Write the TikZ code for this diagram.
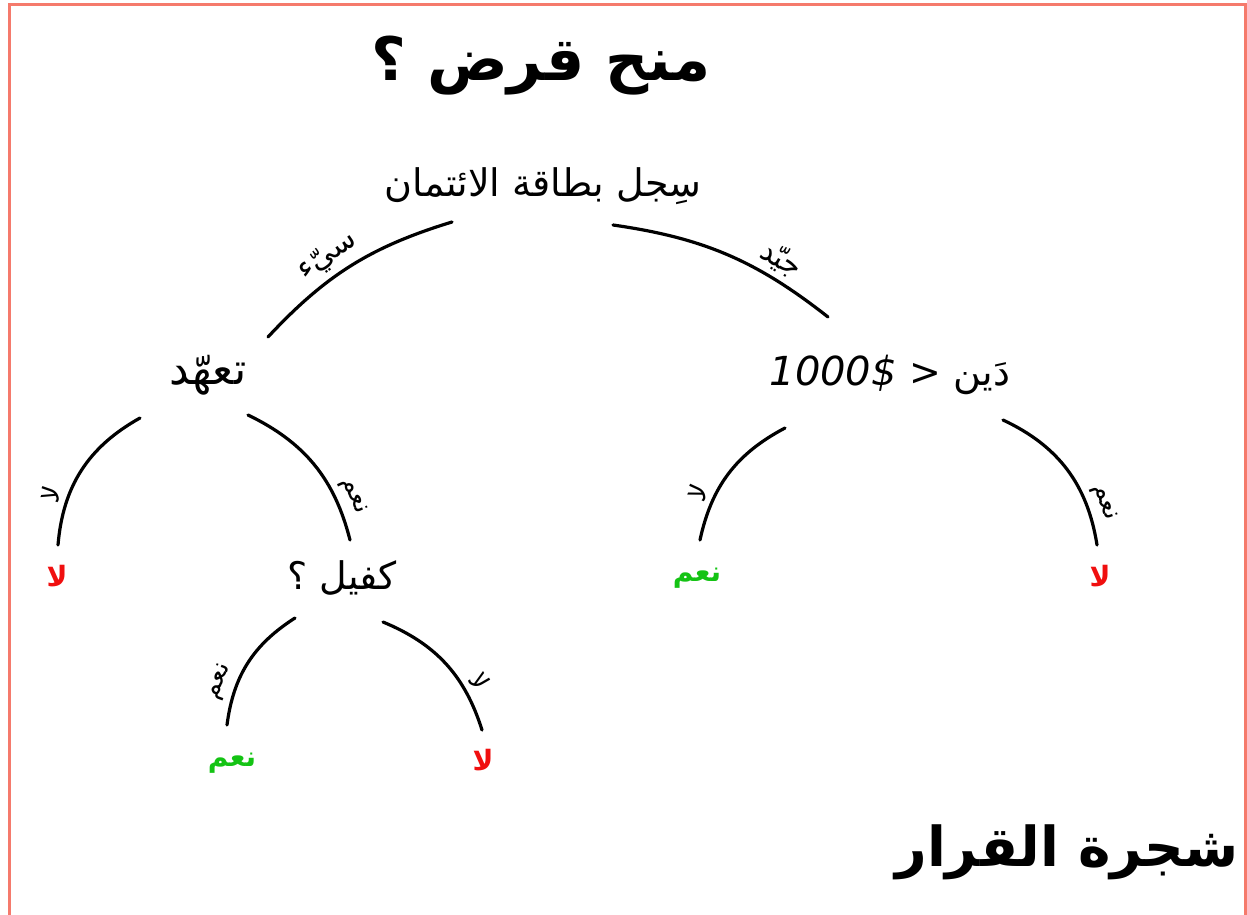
\documentclass[tikz,border=0pt]{standalone}
\usepackage{fontspec}
\setmainfont{DejaVu Sans}
\newfontfamily\arabicfont[Script=Arabic]{DejaVu Sans}
\TeXXeTstate=1
\definecolor{framec}{RGB}{245,122,108}
\definecolor{yesgreen}{RGB}{20,195,20}
\definecolor{nored}{RGB}{240,15,15}
\newcommand{\AR}[1]{{\arabicfont\beginR #1\endR}}
\begin{document}
\begin{tikzpicture}[x=1pt,y=-1pt,
  every node/.style={inner sep=0pt, outer sep=0pt},
  bigtitle/.style={font=\arabicfont\bfseries\fontsize{60}{66}\selectfont},
  question/.style={font=\arabicfont\fontsize{38}{42}\selectfont},
  leafno/.style={text=nored, font=\arabicfont\bfseries\fontsize{28}{32}\selectfont},
  leafyes/.style={text=yesgreen, font=\arabicfont\bfseries\fontsize{28}{32}\selectfont},
  branch/.style={line width=3.2pt, line cap=round},
  blabel/.style={font=\arabicfont\fontsize{30}{32}\selectfont, sloped, above=7pt},
  slabel/.style={font=\arabicfont\fontsize{26}{28}\selectfont, sloped, above=7pt}
]
\useasboundingbox (0,0) rectangle (1247,915);
\draw[framec, line width=3pt] (9.5,916) -- (9.5,5) -- (1245,5) -- (1245,916);

\node[bigtitle] (title) at (541,66) {\AR{منح قرض ؟}};
\node[bigtitle,font=\arabicfont\bfseries\fontsize{55}{60}\selectfont] (bottomtitle) at (1067,852) {\AR{شجرة القرار}};

\node[question] (root) at (543,186) {\AR{سِجل بطاقة الائتمان}};
\node[question,font=\arabicfont\fontsize{44}{48}\selectfont] (taahhud) at (208,375) {\AR{تعهّد}};
\node[question] (dayn) at (890,375) {{\itshape\fontsize{40}{44}\selectfont 1000\$}\,\,<\,\,\AR{دَين}};
\node[question] (kafil) at (342,578) {\AR{كفيل ؟}};

\node[leafno] (la1) at (57,576) {\AR{لا}};
\node[leafyes] (naam1) at (697,578) {\AR{نعم}};
\node[leafno] (la2) at (1100,576) {\AR{لا}};
\node[leafyes] (naam2) at (232,763) {\AR{نعم}};
\node[leafno] (la3) at (483,760) {\AR{لا}};

\draw[branch] ([shift={(-91,36)}]root.center) to[bend right=15]
  node[blabel, pos=0.57] {\AR{سيّء}} ([shift={(60,-38)}]taahhud.center);
\draw[branch] ([shift={(70,39)}]root.center) to[bend left=15]
  node[blabel, pos=0.72] {\AR{جيّد}} ([shift={(-62,-58)}]dayn.center);

\draw[branch] ([shift={(-68,43)}]taahhud.center) to[bend right=28]
  node[slabel, pos=0.72] {\AR{لا}} ([shift={(1,-31)}]la1.center);
\draw[branch] ([shift={(40,40)}]taahhud.center) to[bend left=25]
  node[slabel, pos=0.78] {\AR{نعم}} ([shift={(8,-38)}]kafil.center);

\draw[branch] ([shift={(-105,53)}]dayn.center) to[bend right=25]
  node[slabel, pos=0.72] {\AR{لا}} ([shift={(3,-38)}]naam1.center);
\draw[branch] ([shift={(113,45)}]dayn.center) to[bend left=28]
  node[slabel, pos=0.78] {\AR{نعم}} ([shift={(-3,-31)}]la2.center);

\draw[branch] ([shift={(-47,40)}]kafil.center) to[bend right=25]
  node[slabel, pos=0.72] {\AR{نعم}} ([shift={(-5,-38)}]naam2.center);
\draw[branch] ([shift={(41,44)}]kafil.center) to[bend left=25]
  node[slabel, pos=0.72] {\AR{لا}} ([shift={(-1,-30)}]la3.center);
\end{tikzpicture}
\end{document}
